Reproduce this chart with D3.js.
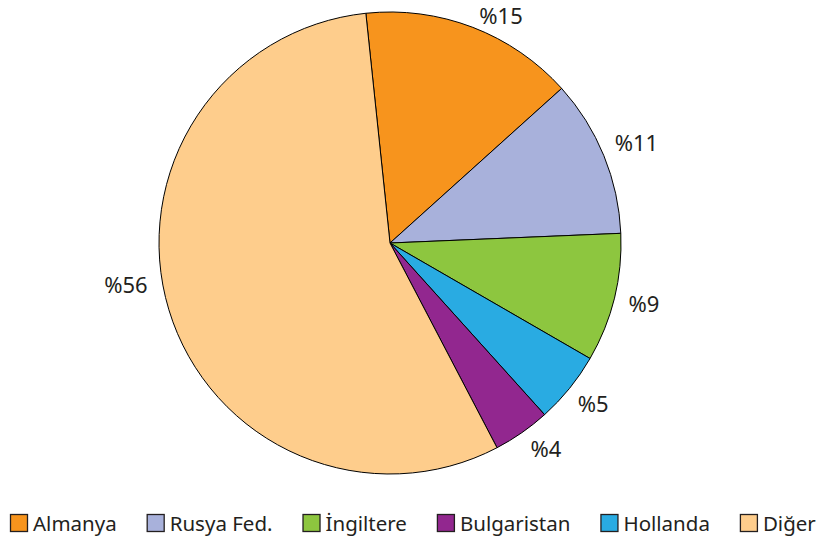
<!DOCTYPE html>
<meta charset="utf-8">
<style>
    body { margin: 0; background: #fff; }
    text { font-family: "Noto Sans", sans-serif; fill: #231f20; }
    .label { font-size: 22px; }
    .legend text { font-size: 20.5px; }
</style>
<body>
<div id="chart"></div>
<script src="https://d3js.org/d3.v7.min.js"></script>
<script>
    // data
    var categories = ['Almanya', 'Rusya Fed.', 'İngiltere', 'Hollanda', 'Bulgaristan', 'Diğer'];
    var shares = [15, 11, 9, 5, 4, 56];
    var colors = ['#f7941d', '#a8b1db', '#8dc63f', '#29abe2', '#92278f', '#fecd8c'];
    var legendOrder = ['Almanya', 'Rusya Fed.', 'İngiltere', 'Bulgaristan', 'Hollanda', 'Diğer'];

    var width = 822, height = 541;
    var cx = 390, cy = 243, radius = 231;
    var startDeg = -6;
    // small angular nudges so labels sit where the original put them
    var labelNudge = { 'Almanya': 3.5, 'Rusya Fed.': -0.8, 'Diğer': 7.3, 'Bulgaristan': -1.8 };

    var data = categories.map(function (c, i) { return { name: c, value: shares[i], color: colors[i] }; });

    var svg = d3.select('#chart').append('svg')
        .attr('width', width)
        .attr('height', height);

    var pie = d3.pie()
        .sort(null)
        .value(function (d) { return d.value; })
        .startAngle(startDeg * Math.PI / 180)
        .endAngle((startDeg + 360) * Math.PI / 180);

    var arc = d3.arc().innerRadius(0).outerRadius(radius);

    var g = svg.append('g').attr('transform', 'translate(' + cx + ',' + cy + ')');

    var arcs = pie(data);

    g.selectAll('path')
        .data(arcs)
        .enter().append('path')
        .attr('d', arc)
        .attr('fill', function (d) { return d.data.color; })
        .attr('stroke', '#000')
        .attr('stroke-width', 1)
        .attr('stroke-linejoin', 'round');

    // labels: anchor point just outside the pie, then push the text box outward
    var anchorR = 246, halfH = 10;
    g.selectAll('.label')
        .data(arcs)
        .enter().append('text')
        .attr('class', 'label')
        .attr('text-anchor', 'middle')
        .text(function (d) { return '%' + d.data.value; })
        .each(function (d) {
            var a = (d.startAngle + d.endAngle) / 2 + (labelNudge[d.data.name] || 0) * Math.PI / 180;
            var halfW = this.getComputedTextLength() / 2;
            var s = Math.sin(a), c = Math.cos(a);
            // baseline sits ~8px below the visual centre of the digits
            var y = -anchorR * c - halfH * c + 8;
            var sel = d3.select(this).attr('x', anchorR * s + halfW * s).attr('y', y);
            // keep the text box inside the page
            var bb = this.getBBox();
            if (bb.y + cy < 0) sel.attr('y', y - (bb.y + cy));
        });

    // legend
    var legend = svg.append('g').attr('class', 'legend');
    var lx = 10, ly = 514, box = 18;
    legendOrder.forEach(function (name) {
        var d = data.find(function (e) { return e.name === name; });
        var item = legend.append('g').attr('transform', 'translate(' + lx + ',' + ly + ')');
        item.append('rect')
            .attr('x', 0.5).attr('y', 0.5)
            .attr('width', box - 1).attr('height', box - 1)
            .attr('fill', d.color)
            .attr('stroke', '#231f20')
            .attr('stroke-width', 1.3);
        var t = item.append('text')
            .attr('x', box + 5)
            .attr('y', 17)
            .text(name);
        lx += box + 5 + t.node().getComputedTextLength() + 30;
    });
</script>
</body>
